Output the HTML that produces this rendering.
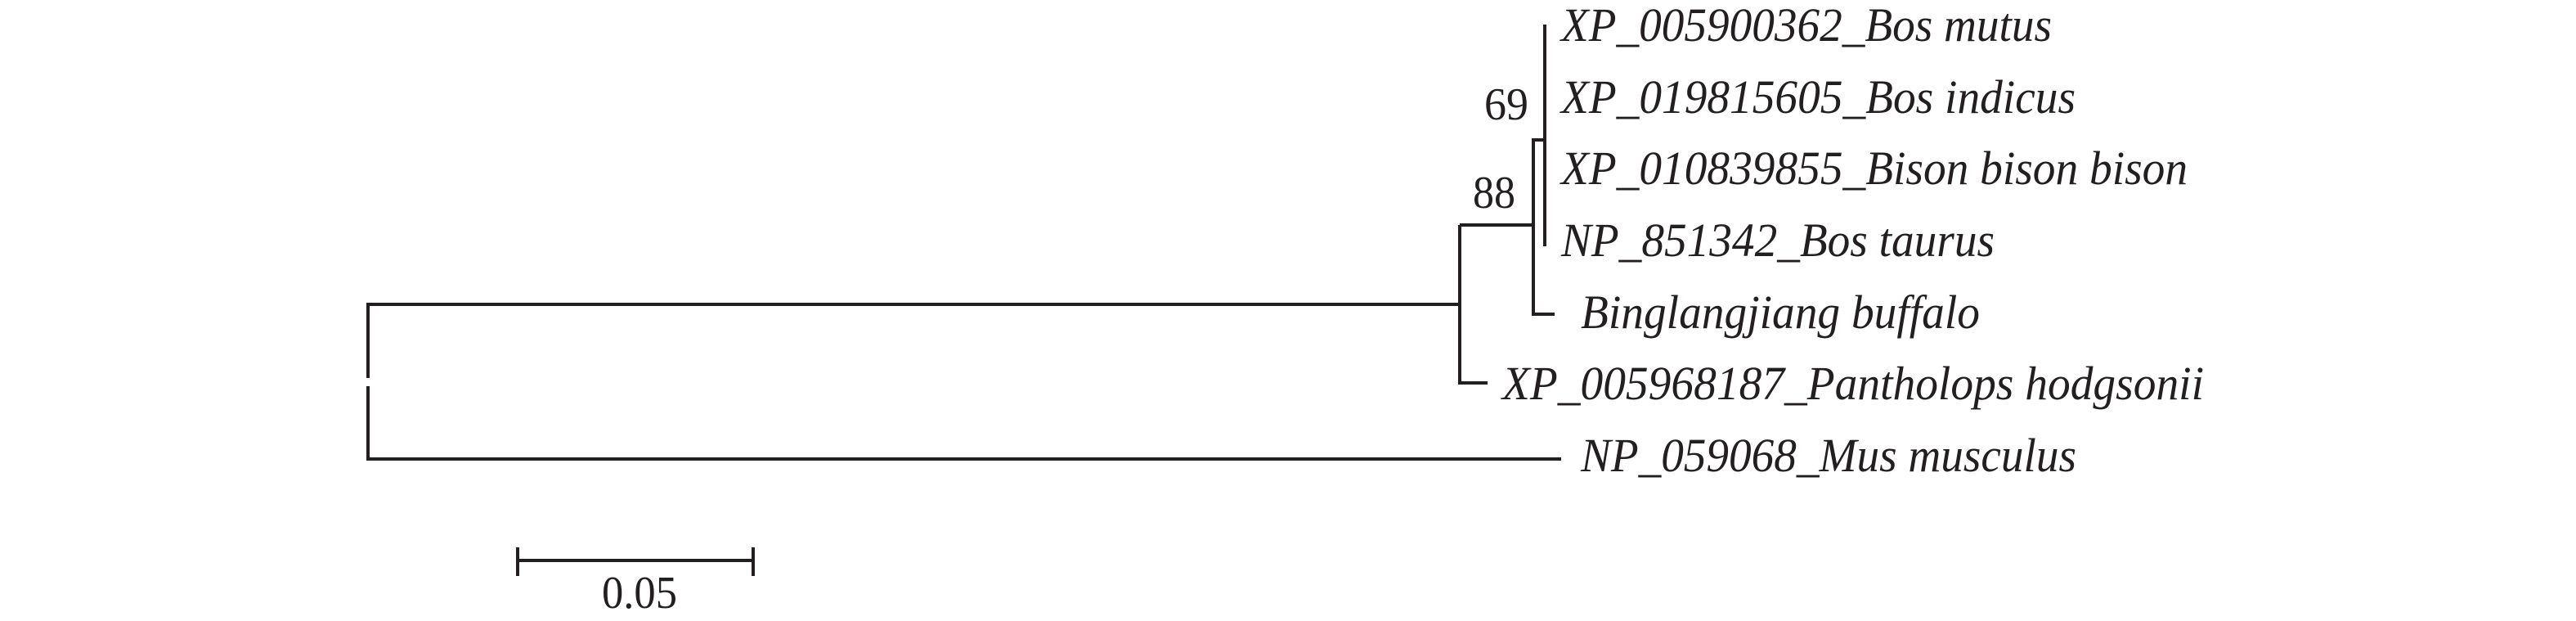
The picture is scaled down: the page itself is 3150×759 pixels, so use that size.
<!DOCTYPE html>
<html><head><meta charset="utf-8"><style>html,body{margin:0;padding:0;background:#fff}svg{display:block}</style></head>
<body>
<svg width="3150" height="759" viewBox="0 0 3150 759" xmlns="http://www.w3.org/2000/svg">
<g stroke="#231f20" stroke-width="4" fill="none" stroke-linecap="butt">
<path d="M1787 372 H450 V462 M450 472 V561 H1909"/>
<path d="M1787 468 H1819"/>
<path d="M1785 275 V470"/>
<path d="M1785 275 H1875"/>
<path d="M1875 169 V384 H1901"/>
<path d="M1875 171 H1889"/>
<path d="M1889 30 V301"/>
<path d="M633 685 H921 M633 669 V704 M921 669 V704"/>
</g>
<g font-family="Liberation Serif, serif" font-style="italic" font-size="58" fill="#231f20">
<text x="1909" y="50" textLength="600" lengthAdjust="spacingAndGlyphs">XP_005900362_Bos mutus</text>
<text x="1909" y="138" textLength="629" lengthAdjust="spacingAndGlyphs">XP_019815605_Bos indicus</text>
<text x="1909" y="225" textLength="766" lengthAdjust="spacingAndGlyphs">XP_010839855_Bison bison bison</text>
<text x="1909" y="313" textLength="530" lengthAdjust="spacingAndGlyphs">NP_851342_Bos taurus</text>
<text x="1933" y="401" textLength="488" lengthAdjust="spacingAndGlyphs">Binglangjiang buffalo</text>
<text x="1837" y="488" textLength="858" lengthAdjust="spacingAndGlyphs">XP_005968187_Pantholops hodgsonii</text>
<text x="1933" y="576" textLength="606" lengthAdjust="spacingAndGlyphs">NP_059068_Mus musculus</text>
</g>
<g font-family="Liberation Serif, serif" font-size="56" fill="#231f20">
<text x="1815" y="146" textLength="54" lengthAdjust="spacingAndGlyphs">69</text>
<text x="1801" y="254" textLength="52" lengthAdjust="spacingAndGlyphs">88</text>
<text x="736" y="743" textLength="92" lengthAdjust="spacingAndGlyphs">0.05</text>
</g>
</svg>
</body></html>
